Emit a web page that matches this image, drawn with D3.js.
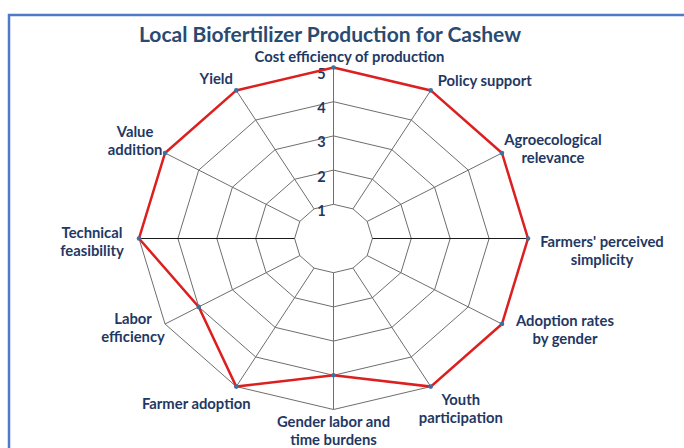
<!DOCTYPE html>
<html>
<head>
<meta charset="utf-8">
<script src="https://cdn.jsdelivr.net/npm/d3@7"></script>
<style>
  body { margin: 0; background: #fff; }
  svg { display: block; font-family: Lato, "Open Sans", sans-serif; }
</style>
</head>
<body>
<div id="chart"></div>
<script>
// chart data
const title = "Local Biofertilizer Production for Cashew";
const categories = [
    "Cost efficiency of production",
    "Policy support",
    "Agroecological\nrelevance",
    "Farmers' perceived\nsimplicity",
    "Adoption rates\nby gender",
    "Youth\nparticipation",
    "Gender labor and\ntime burdens",
    "Farmer adoption",
    "Labor\nefficiency",
    "Technical\nfeasibility",
    "Value\naddition",
    "Yield"
];
const scores = [5, 5, 5, 5, 5, 5, 4, 5, 4, 5, 5, 5];
const ticks = [1, 2, 3, 4, 5];

// label nudges (block centre relative to the outer vertex), layout only
const labelNudge = [
    [16, -12], [54, -10], [51, -5], [74, 11], [63, 5], [30, 21],
    [0, 20], [-40, 16], [-32, 3], [-47, 2], [-30, -13], [-20, -12]
];

const width = 684, height = 448;
const cx = 333.5, cy = 238.5;

const svg = d3.select("#chart").append("svg")
    .attr("width", width)
    .attr("height", height);

// frame
svg.append("rect")
    .attr("x", 9).attr("y", 15)
    .attr("width", 720).attr("height", 500)
    .attr("fill", "none")
    .attr("stroke", "#4f79c9")
    .attr("stroke-width", 2.5);

// title
svg.append("text")
    .attr("x", 330).attr("y", 33)
    .attr("text-anchor", "middle")
    .attr("dominant-baseline", "central")
    .attr("font-size", 21)
    .attr("font-weight", "bold")
    .attr("fill", "#2b4a6f")
    .text(title);

// scales (the picture is slightly stretched horizontally)
const rx = d3.scaleLinear().domain([0, 5]).range([0, 194.5]);
const ry = d3.scaleLinear().domain([0, 5]).range([0, 171]);
const angle = d3.scaleLinear().domain([0, categories.length]).range([0, 2 * Math.PI]);

function px(i, v) { return cx + Math.sin(angle(i)) * rx(v); }
function py(i, v) { return cy - Math.cos(angle(i)) * ry(v); }

const g = svg.append("g");

// rings
ticks.forEach(t => {
    const pts = categories.map((c, i) => [px(i, t), py(i, t)]);
    g.append("path")
        .attr("d", d3.line().curve(d3.curveLinearClosed)(pts))
        .attr("fill", "none")
        .attr("stroke", "#6e6e6e")
        .attr("stroke-width", 1);
});

// spokes
g.selectAll(".spoke")
    .data(categories)
    .enter()
    .append("line")
    .attr("class", "spoke")
    .attr("x1", (d, i) => px(i, ticks[0]))
    .attr("y1", (d, i) => py(i, ticks[0]))
    .attr("x2", (d, i) => px(i, ticks[ticks.length - 1]))
    .attr("y2", (d, i) => py(i, ticks[ticks.length - 1]))
    .attr("stroke", (d, i) => (i % 6 === 3) ? "#1a1a1a" : "#6e6e6e")
    .attr("stroke-width", 1);

// tick labels
g.selectAll(".tick")
    .data(ticks)
    .enter()
    .append("text")
    .attr("class", "tick")
    .attr("x", cx - 12)
    .attr("y", d => cy - ry(d) + 6)
    .attr("text-anchor", "middle")
    .attr("dominant-baseline", "central")
    .attr("font-size", 14.5)
    .attr("font-weight", "bold")
    .attr("fill", "#1f3864")
    .text(d => d);

// data line
const linePts = scores.map((v, i) => [px(i, v), py(i, v)]);
g.append("path")
    .attr("d", d3.line().curve(d3.curveLinearClosed)(linePts))
    .attr("fill", "none")
    .attr("stroke", "#dc1f1f")
    .attr("stroke-width", 2.5)
    .attr("stroke-linejoin", "miter");

g.selectAll(".dot")
    .data(scores)
    .enter()
    .append("circle")
    .attr("class", "dot")
    .attr("cx", (d, i) => px(i, d))
    .attr("cy", (d, i) => py(i, d))
    .attr("r", 2.3)
    .attr("fill", "#3f6f9c");

// category labels
const lineH = 18;
g.selectAll(".label")
    .data(categories)
    .enter()
    .append("text")
    .attr("class", "label")
    .attr("text-anchor", "middle")
    .attr("font-size", 14.8)
    .attr("font-weight", "bold")
    .attr("fill", "#1f3864")
    .each(function(d, i) {
        const lines = d.split("\n");
        const x = px(i, 5) + labelNudge[i][0];
        const yc = py(i, 5) + labelNudge[i][1];
        const y0 = yc - (lines.length - 1) * lineH / 2;
        lines.forEach((ln, k) => {
            d3.select(this).append("tspan")
                .attr("x", x)
                .attr("y", y0 + k * lineH)
                .attr("dominant-baseline", "central")
                .text(ln);
        });
    });
</script>
</body>
</html>
